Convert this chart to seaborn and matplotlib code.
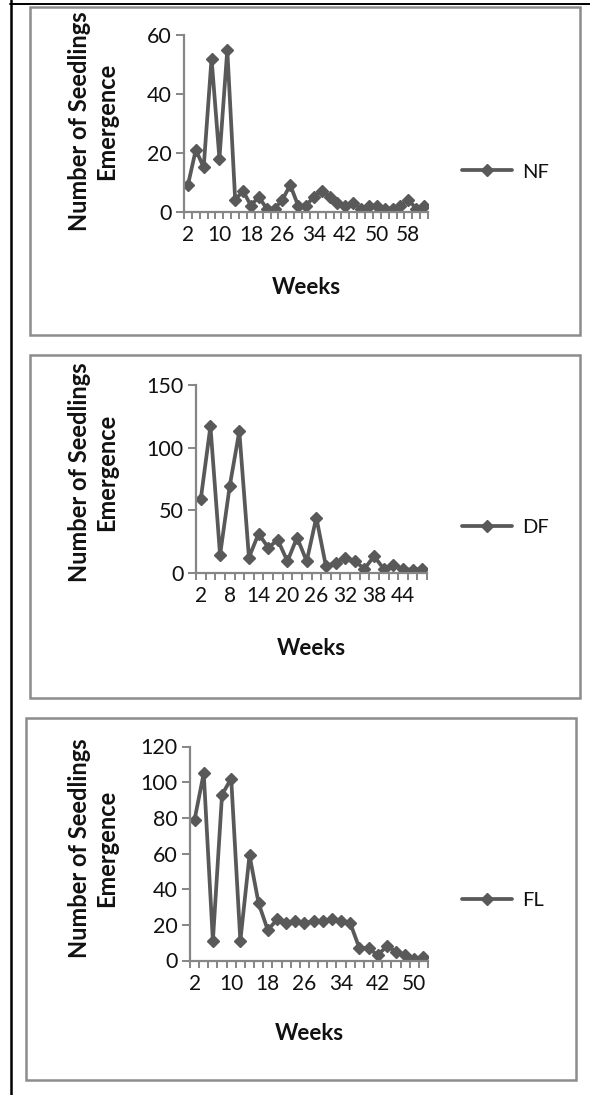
import seaborn as sns
import matplotlib.pyplot as plt
from matplotlib.patches import Rectangle
from matplotlib.lines import Line2D
from matplotlib.ticker import FixedLocator

# data (weeks are every second week)
nf_weeks = [2, 4, 6, 8, 10, 12, 14, 16, 18, 20, 22, 24, 26, 28, 30, 32,
            34, 36, 38, 40, 42, 44, 46, 48, 50, 52, 54, 56, 58, 60, 62]
nf_counts = [9, 21, 15, 52, 18, 55, 4, 7, 2, 5, 1, 1, 4, 9, 2, 2,
             5, 7, 5, 3, 2, 3, 1, 2, 2, 1, 1, 2, 4, 1, 2]
nf_ticks = [2, 10, 18, 26, 34, 42, 50, 58]

df_weeks = [2, 4, 6, 8, 10, 12, 14, 16, 18, 20, 22, 24,
            26, 28, 30, 32, 34, 36, 38, 40, 42, 44, 46, 48]
df_counts = [59, 117, 14, 69, 113, 12, 31, 20, 26, 9, 28, 9,
             44, 5, 8, 12, 9, 3, 13, 3, 6, 3, 2, 3]
df_ticks = [2, 8, 14, 20, 26, 32, 38, 44]

fl_weeks = [2, 4, 6, 8, 10, 12, 14, 16, 18, 20, 22, 24, 26,
            28, 30, 32, 34, 36, 38, 40, 42, 44, 46, 48, 50, 52]
fl_counts = [79, 105, 11, 93, 102, 11, 59, 32, 17, 23, 21, 22, 21,
             22, 22, 23, 22, 21, 7, 7, 3, 8, 5, 3, 1, 2]
fl_ticks = [2, 10, 18, 26, 34, 42, 50]

W, H = 590, 1095
LINE = '#595959'
AXC = '#868686'
BOX = '#8c8c8c'
TXT = '#111111'

sns.set_style('white')
plt.rcParams['font.family'] = ['Lato', 'DejaVu Sans']

fig = plt.figure(figsize=(W / 100, H / 100), dpi=100)


def fx(px):
    return px / W


def fy(py):
    return 1 - py / H


# outer black frame (left and top only)
fig.add_artist(Line2D([fx(11), fx(11)], [0, 1], color='black', lw=1.8,
                      transform=fig.transFigure))
fig.add_artist(Line2D([fx(10), 1], [fy(3.5), fy(3.5)], color='black', lw=1.4,
                      transform=fig.transFigure))

panels = [
    # name, weeks, counts, ticks, ymax, ystep, axes box, chart box, legend y, label y
    ('NF', nf_weeks, nf_counts, nf_ticks, 60, 20, (184, 35, 428, 211.5),
     (30, 7, 580, 335), 172, 121.5, 288),
    ('DF', df_weeks, df_counts, df_ticks, 150, 50, (196, 385, 427, 572.5),
     (30, 355, 580, 698), 527, 472, 648),
    ('FL', fl_weeks, fl_counts, fl_ticks, 120, 20, (190, 746.5, 428, 960.5),
     (26, 718, 576, 1080), 900, 848, 1033),
]

for name, weeks, counts, ticks, ymax, ystep, axbox, cbox, leg_y, ylab_y, xlab_y in panels:
    l, t, r, b = cbox
    fig.add_artist(Rectangle((fx(l), fy(b)), (r - l) / W, (b - t) / H,
                             transform=fig.transFigure, fill=False,
                             ec=BOX, lw=1.8))

    al, at, ar, ab = axbox
    ax = fig.add_axes([fx(al), fy(ab), (ar - al) / W, (ab - at) / H])
    ax.set_facecolor('none')

    sns.lineplot(x=weeks, y=counts, ax=ax, color=LINE, lw=2.7,
                 marker='D', markersize=6.4, markeredgecolor=LINE,
                 markeredgewidth=1, label=name)

    ax.set_xlim(weeks[0] - 1, weeks[-1] + 1)
    ax.set_ylim(0, ymax)
    ax.set_yticks(list(range(0, ymax + 1, ystep)))
    ax.set_xticks(ticks)
    ax.xaxis.set_minor_locator(FixedLocator([w - 1 for w in weeks] + [weeks[-1] + 1]))

    for s in ['top', 'right']:
        ax.spines[s].set_visible(False)
    for s in ['left', 'bottom']:
        ax.spines[s].set_color(AXC)
        ax.spines[s].set_linewidth(1.6)

    ax.tick_params(axis='x', which='minor', length=5, width=1.4, color=AXC,
                   direction='out', bottom=True)
    ax.tick_params(axis='x', which='major', length=0, pad=10,
                   labelsize=15, labelcolor=TXT)
    ax.tick_params(axis='y', which='major', length=6, width=1.4, color=AXC,
                   direction='out', left=True, pad=3,
                   labelsize=15.5, labelcolor=TXT)

    ax.set_ylabel('Number of Seedlings\nEmergence', fontsize=17,
                  fontweight='bold', color=TXT, linespacing=1.2,
                  multialignment='center')
    ax.yaxis.label.set_va('center')
    ax.yaxis.set_label_coords((93 - al) / (ar - al), (ab - ylab_y) / (ab - at))

    ax.set_xlabel('Weeks', fontsize=16, fontweight='bold', color=TXT)
    ax.xaxis.label.set_va('center')
    ax.xaxis.set_label_coords(0.5, (ab - xlab_y) / (ab - at))

    ax.legend(loc='center left', bbox_to_anchor=(fx(462), fy(leg_y)),
              bbox_transform=fig.transFigure, frameon=False,
              handlelength=2.5, handletextpad=0.5, borderpad=0,
              borderaxespad=0, fontsize=14.5, labelcolor=TXT)

plt.savefig('out.png', dpi=100)
